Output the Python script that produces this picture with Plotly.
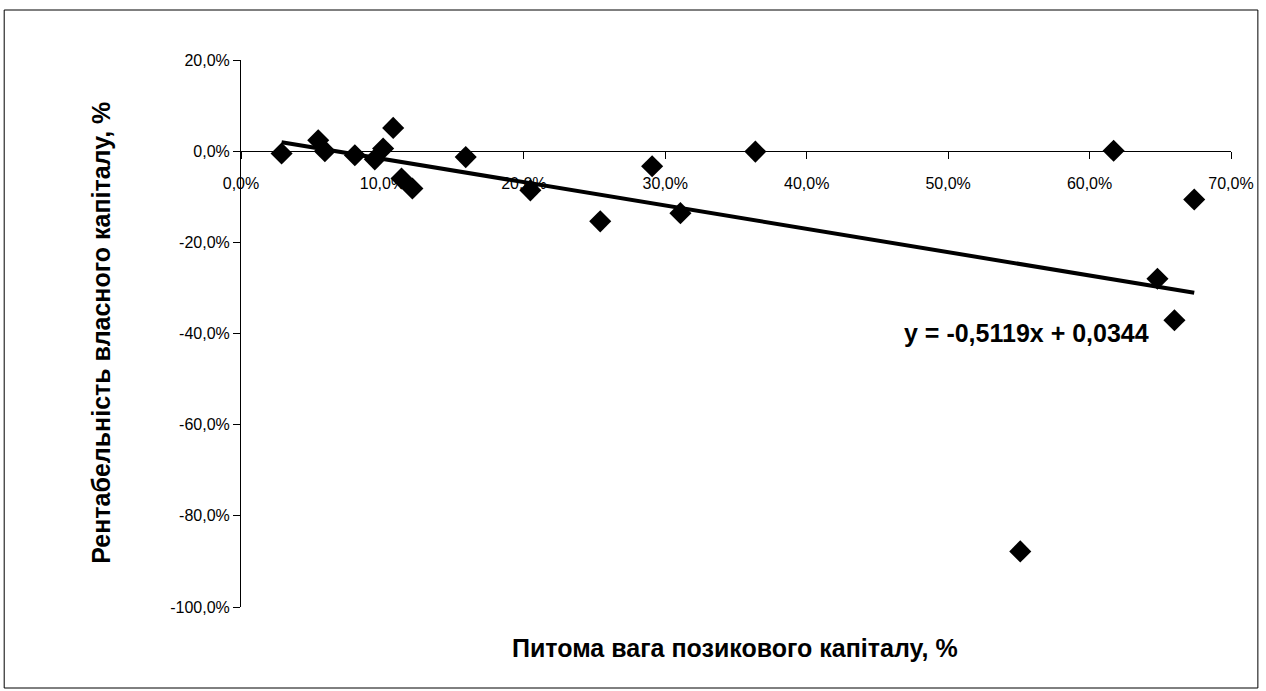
import plotly.graph_objects as go

# Data: share of borrowed capital (x) vs return on equity (y)
debt_share = [0.0287, 0.0546, 0.0593, 0.0805, 0.0946, 0.1005, 0.1076, 0.1135, 0.1212,
              0.1589, 0.2046, 0.2540, 0.2907, 0.3107, 0.3637, 0.5510, 0.6170, 0.6480,
              0.6600, 0.6740]
roe = [-0.005, 0.024, 0.0, -0.009, -0.018, 0.006, 0.051, -0.060, -0.082,
       -0.013, -0.086, -0.154, -0.033, -0.136, -0.001, -0.878, 0.001, -0.280,
       -0.371, -0.106]

trend_slope = -0.5119
trend_intercept = 0.0344
trend_label = "y = -0,5119x + 0,0344"

x_tickvals = [0.0, 0.1, 0.2, 0.3, 0.4, 0.5, 0.6, 0.7]
x_ticktext = ["0,0%", "10,0%", "20,0%", "30,0%", "40,0%", "50,0%", "60,0%", "70,0%"]
y_tickvals = [0.2, 0.0, -0.2, -0.4, -0.6, -0.8, -1.0]
y_ticktext = ["20,0%", "0,0%", "-20,0%", "-40,0%", "-60,0%", "-80,0%", "-100,0%"]

x_title = "Питома вага позикового капіталу, %"
y_title = "Рентабельність власного капіталу, %"

FONT = "Liberation Sans, Arial, sans-serif"

x_min, x_max = min(debt_share), max(debt_share)
trend_x = [x_min, x_max]
trend_y = [trend_slope * v + trend_intercept for v in trend_x]

fig = go.Figure()
fig.add_trace(go.Scatter(
    x=trend_x, y=trend_y, mode="lines",
    line=dict(color="black", width=4), showlegend=False, hoverinfo="skip"))
fig.add_trace(go.Scatter(
    x=debt_share, y=roe, mode="markers",
    marker=dict(symbol="diamond", size=17, color="black"),
    showlegend=False))

# plot area in pixels
W, H = 1266, 691
L, R, T, B = 241, 30, 60, 84
pw, ph = W - L - R, H - T - B

y_lo, y_hi = -1.0, 0.2
zero_pos = (0 - y_lo) / (y_hi - y_lo)

fig.update_layout(
    width=W, height=H,
    margin=dict(l=L, r=R, t=T, b=B),
    paper_bgcolor="white", plot_bgcolor="white",
    font=dict(family=FONT, size=16, color="black"),
    xaxis=dict(range=[0, 0.7], tickvals=x_tickvals, ticktext=x_ticktext,
               showgrid=False, zeroline=False, showline=True, linecolor="black",
               linewidth=1, ticks="outside", ticklen=7, tickcolor="black",
               anchor="free", position=zero_pos, ticklabelstandoff=11,
               tickfont=dict(size=16)),
    yaxis=dict(range=[y_lo, y_hi], tickvals=y_tickvals, ticktext=y_ticktext,
               showgrid=False, zeroline=False, showline=True, linecolor="black",
               linewidth=1, ticks="outside", ticklen=7, tickcolor="black",
               tickfont=dict(size=16)),
    annotations=[
        dict(text=f"<b>{x_title}</b>", xref="paper", yref="paper",
             x=(737 - L) / pw, y=(H - B - 648) / ph, xanchor="center", yanchor="middle",
             showarrow=False, font=dict(size=25)),
        dict(text=f"<b>{y_title}</b>", xref="paper", yref="paper",
             x=(100 - L) / pw, y=(H - B - 333) / ph, xanchor="center", yanchor="middle",
             textangle=-90, showarrow=False, font=dict(size=25)),
        dict(text=f"<b>{trend_label}</b>", xref="paper", yref="paper",
             x=(1156 - L) / pw, y=(H - B - 333) / ph, xanchor="right", yanchor="middle",
             showarrow=False, font=dict(size=25)),
    ],
    shapes=[dict(type="rect", xref="paper", yref="paper",
                 x0=(3 - L) / pw, x1=(1263 - L) / pw,
                 y0=(H - B - 688) / ph, y1=(H - B - 10) / ph,
                 line=dict(color="black", width=1), fillcolor="rgba(0,0,0,0)",
                 layer="below")],
)

fig.write_html("out.html", config={"displayModeBar": False},
               post_script="document.body.style.margin='0';document.body.style.overflow='hidden';")
